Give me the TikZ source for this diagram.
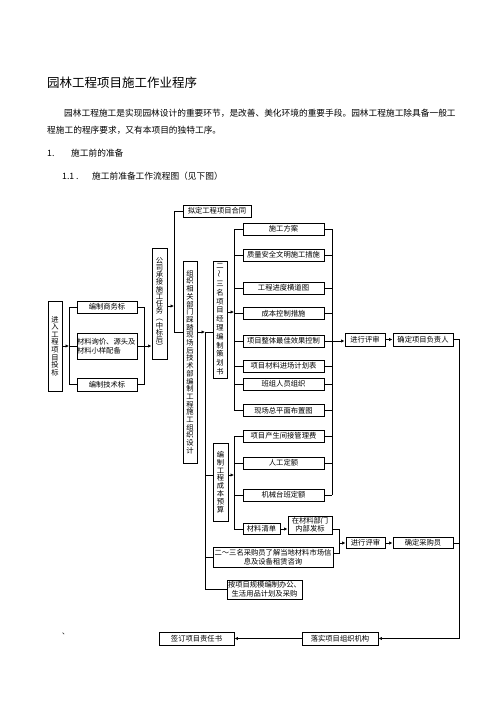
\documentclass[tikz,border=0pt]{standalone}
\usepackage{fontspec}
\usepackage{graphicx}
\setmainfont{Noto Sans CJK SC}
\usetikzlibrary{arrows.meta}
\makeatletter
\newtoks\vt@toks
\newcommand\vtext[1]{\vt@toks{}\def\vt@sep{}\@tfor\vt@ch:=#1\do{%
  \vt@toks\expandafter{\the\expandafter\vt@toks\vt@sep}%
  \vt@toks\expandafter{\the\expandafter\vt@toks\vt@ch}%
  \def\vt@sep{\\}}\the\vt@toks}
\makeatother
\begin{document}
\begin{tikzpicture}[x=1pt,y=-1pt,
  box/.style={draw=black, line width=0.95pt, inner sep=0pt, align=center, font=\fontsize{7.3}{8.6}\selectfont},
  vbox/.style={box, font=\fontsize{7.3}{7.6}\selectfont},
  mbox/.style={box, minimum width=81pt, minimum height=12pt},
  ln/.style={line width=0.85pt},
  arr/.style={line width=0.85pt, -{Latex[length=3.5pt,width=3.5pt]}},
  hd/.style={anchor=west, inner sep=0pt}]
\useasboundingbox (0,0) rectangle (496,702);
% header
\node[hd, font=\fontsize{12.5}{14}\selectfont] (title) at (47,83) {园林工程项目施工作业程序};
\node[hd, font=\fontsize{8.7}{10}\selectfont] (p1) at (64,113) {园林工程施工是实现园林设计的重要环节，是改善、美化环境的重要手段。园林工程施工除具备一般工};
\node[hd, font=\fontsize{8.7}{10}\selectfont] (p2) at (47,130) {程施工的程序要求，又有本项目的独特工序。};
\node[hd, font=\fontsize{8.7}{10}\selectfont] (n1) at (47,153) {1.};
\node[hd, font=\fontsize{8.7}{10}\selectfont] (t1) at (71,153) {施工前的准备};
\node[hd, font=\fontsize{8.7}{10}\selectfont] (n11) at (62,176) {1.1 .};
\node[hd, font=\fontsize{8.7}{10}\selectfont] (t11) at (92,176) {施工前准备工作流程图（见下图）};
\node[hd, font=\fontsize{7}{8}\selectfont] (dot) at (62,634) {、};
% boxes
\node[vbox, minimum width=14pt, minimum height=90pt] (jr) at (55,346) {\vtext{进入工程项目投标}};
\node[box, minimum width=60pt, minimum height=12pt] (sw) at (107,307) {编制商务标};
\node[box, minimum width=60pt, minimum height=26pt, text width=60pt, align=left] (cl) at (107,346) {材料询价、源头及\\材料小样配备};
\node[box, minimum width=60pt, minimum height=13pt] (js) at (107,384.5) {编制技术标};
\node[vbox, minimum width=15pt, minimum height=111pt, font=\fontsize{7.3}{7.2}\selectfont] (gs) at (159.5,303.5) {\vtext{公司承接施工任务︵中标后︶}};
\node[box, minimum width=68pt, minimum height=12pt] (nd) at (217,211) {拟定工程项目合同};
\node[vbox, minimum width=14pt, minimum height=202pt, font=\fontsize{7.3}{7.7}\selectfont] (zz) at (190,362) {\vtext{组织相关部门踩踏现场后技术部编制工程施工组织设计}};
\node[vbox, minimum width=14pt, minimum height=117pt, font=\fontsize{7.3}{8.8}\selectfont] (eq) at (220,319.5) {\vtext{二{\rotatebox{90}{～}}三名项目经理编制策划书}};
\node[vbox, minimum width=15pt, minimum height=78pt, font=\fontsize{7.3}{7.8}\selectfont] (bz) at (220.5,482) {\vtext{编制工程成本预算}};
\node[mbox] (m1) at (283.5,229) {施工方案};
\node[mbox] (m2) at (283.5,255) {质量安全文明施工措施};
\node[mbox] (m3) at (283.5,288) {工程进度横道图};
\node[mbox] (m4) at (283.5,313.5) {成本控制措施};
\node[mbox] (m5) at (283.5,341) {项目整体最佳效果控制};
\node[mbox] (m6) at (283.5,366) {项目材料进场计划表};
\node[mbox] (m7) at (283.5,384) {班组人员组织};
\node[mbox] (m8) at (283.5,410.5) {现场总平面布置图};
\node[mbox] (m9) at (283.5,436) {项目产生间接管理费};
\node[mbox] (m10) at (283.5,463) {人工定额};
\node[mbox] (m11) at (283.5,495) {机械台班定额};
\node[box, minimum width=37pt, minimum height=11pt] (clq) at (261.5,529) {材料清单};
\node[box, minimum width=44pt, minimum height=18pt, font=\fontsize{7.3}{8.3}\selectfont] (zc) at (310,525) {在材料部门\\内部发标};
\node[box, minimum width=120pt, minimum height=20pt, font=\fontsize{7.3}{9}\selectfont] (cg) at (273,557) {二～三名采购员了解当地材料市场信\\息及设备租赁咨询};
\node[box, minimum width=75pt, minimum height=19pt, font=\fontsize{7.3}{9}\selectfont] (ab) at (264.5,589.5) {按项目规模编制办公、\\生活用品计划及采购};
\node[box, minimum width=40pt, minimum height=13pt] (ps1) at (365,339.5) {进行评审};
\node[box, minimum width=60pt, minimum height=13pt] (fz) at (423,339.5) {确定项目负责人};
\node[box, minimum width=39pt, minimum height=11pt] (ps2) at (365.5,543) {进行评审};
\node[box, minimum width=60pt, minimum height=11pt] (cy) at (423,543) {确定采购员};
\node[box, minimum width=76pt, minimum height=13pt] (ls) at (340,638.5) {落实项目组织机构};
\node[box, minimum width=75pt, minimum height=13pt] (qd) at (196.5,638.5) {签订项目责任书};
% junction coordinates
\coordinate (Lx) at (69,346);
\coordinate (Rx) at (144,346);
\coordinate (a1) at (174,306);
\coordinate (a2) at (174,332);
\coordinate (b1) at (205,332);
\coordinate (c1) at (234,312);
\coordinate (c2) at (234,475);
\coordinate (d1) at (332,341);
\coordinate (e1) at (339,529);
\coordinate (e2) at (339,553);
\coordinate (f1) at (459,339.5);
% left group
\draw[arr] (jr.east) -- (Lx);
\draw[ln] (sw.west -| Lx) -- (js.west -| Lx);
\foreach \n in {sw,cl,js} {
  \draw[ln] (\n.west) -- (\n.west -| Lx);
  \draw[ln] (\n.east) -- (\n.east -| Rx);
}
\draw[ln] (sw.east -| Rx) -- (js.east -| Rx);
\draw[arr] (Rx) -- (Rx -| gs.west);
% company task
\draw[arr] (a1 -| gs.east) -- (a1);
\draw[ln] (nd.west) -- (nd.west -| a1) -- (a2) -- (a2 -| zz.west);
% organisation
\draw[arr] (b1 -| zz.east) -- (b1);
\draw[ln] (b1) -- (b1 -| eq.west);
\draw[ln] (b1) -- (b1 |- ab.west) -- (ab.west);
\draw[ln] (b1 |- c2) -- (c2 -| bz.west);
\draw[ln] (b1 |- cg.west) -- (cg.west);
% planning group
\draw[arr] (c1 -| eq.east) -- (c1);
\draw[ln] (c1 |- m1.west) -- (c1 |- m8.west);
\foreach \n in {m1,m2,m3,m4,m5,m6,m7,m8} { \draw[ln] (\n.west) -- (\n.west -| c1); }
% budget group
\draw[arr] (c2 -| bz.east) -- (c2);
\draw[ln] (c2 |- m9.west) -- (c2 |- clq.west);
\foreach \n in {m9,m10,m11,clq} { \draw[ln] (\n.west) -- (\n.west -| c2); }
% right bracket
\draw[ln] (d1 |- m1.east) -- (d1 |- m11.east);
\foreach \n in {m1,m2,m3,m4,m5,m6,m7,m8,m9,m10,m11} { \draw[ln] (\n.east) -- (\n.east -| d1); }
\draw[arr] (d1) -- (d1 -| ps1.west);
\draw[arr] (ps1.east) -- (fz.west);
\draw[ln] (fz.east) -- (f1) -- (f1 |- ls.east);
\draw[arr] (f1 |- ls.east) -- (ls.east);
\draw[ln] (cy.east) -- (cy.east -| f1);
\draw[arr] (ls.west) -- (qd.east);
% purchasing
\draw[arr] (clq.east) -- (clq.east -| zc.west);
\draw[ln] (e1 -| zc.east) -- (e1) -- (e2) -- (e2 -| cg.east);
\draw[arr] (e1 |- ps2.west) -- (ps2.west);
\draw[arr] (ps2.east) -- (cy.west);
\end{tikzpicture}
\end{document}
